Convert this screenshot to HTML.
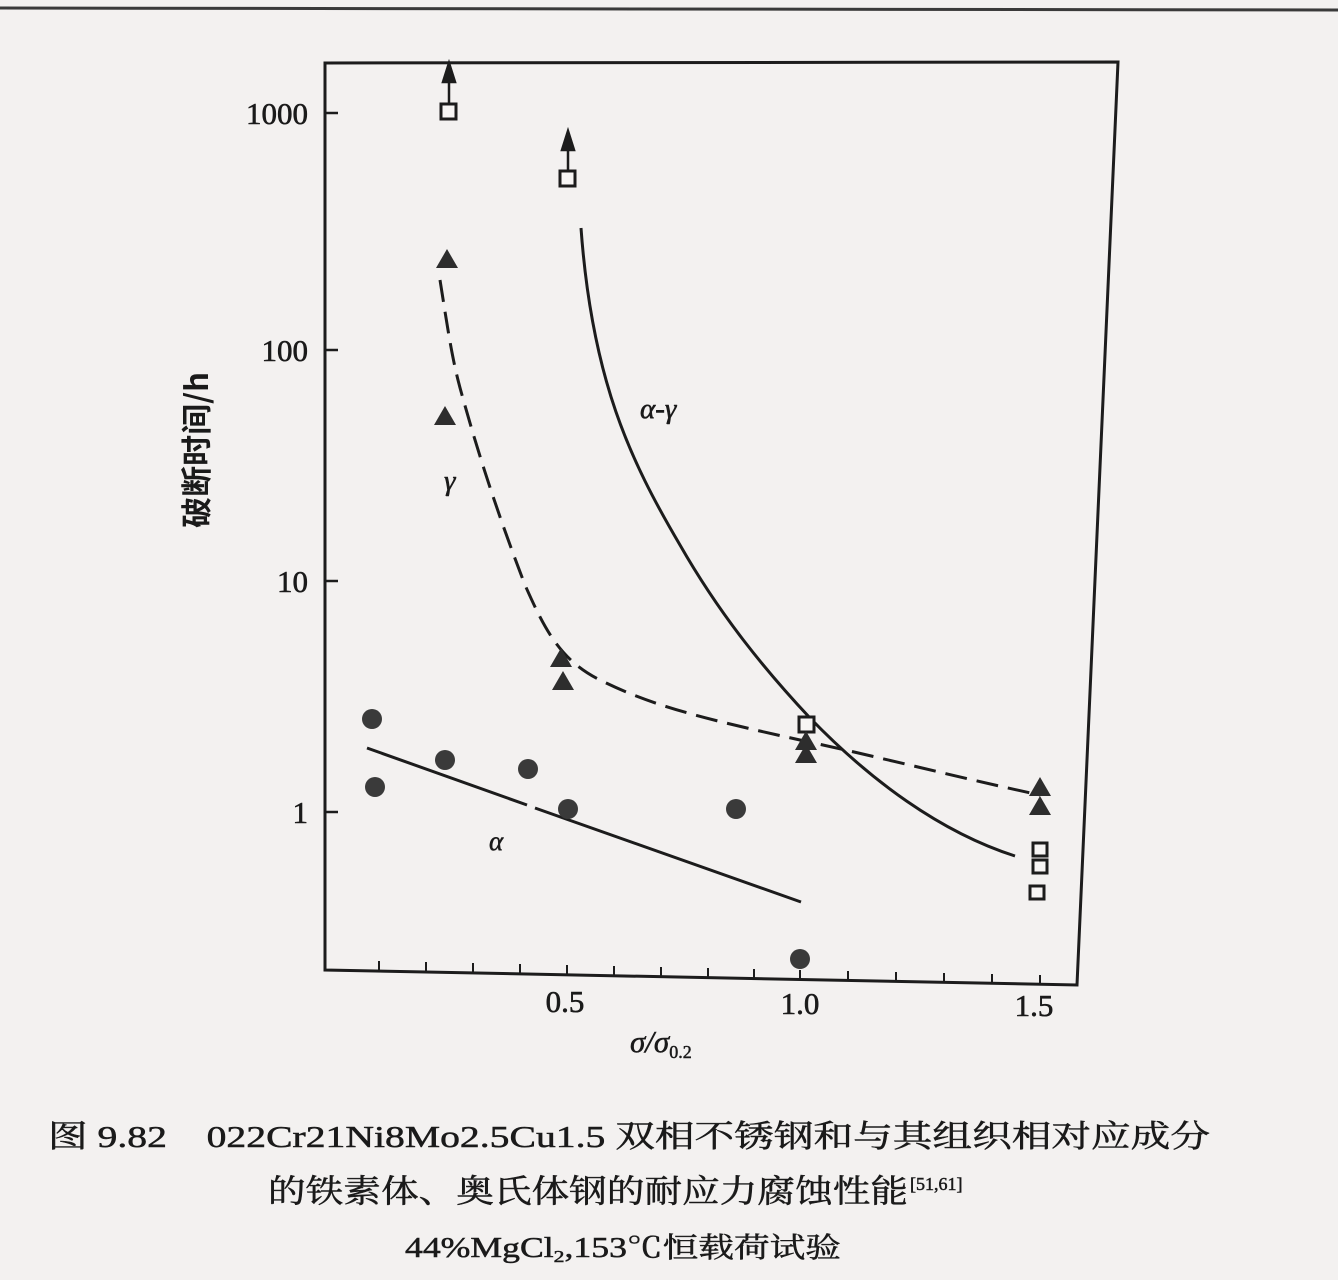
<!DOCTYPE html>
<html><head><meta charset="utf-8"><style>
html,body{margin:0;padding:0;background:#f3f1f0;}
svg{display:block}
.t{font-family:"Liberation Serif","Noto Serif CJK SC",serif;fill:#1a1a1a}
</style></head><body>
<svg width="1338" height="1280" viewBox="0 0 1338 1280" xmlns="http://www.w3.org/2000/svg">
<rect width="1338" height="1280" fill="#f3f1f0"/>
<line x1="0" y1="8" x2="1338" y2="10" stroke="#3a3a3a" stroke-width="3"/>
<polygon points="325,63 1118,62 1077,985 325,970" fill="none" stroke="#1c1c1c" stroke-width="3"/>
<g stroke="#1c1c1c" stroke-width="2.5">
<line x1="325" y1="113" x2="338" y2="113"/>
<line x1="325" y1="350" x2="338" y2="350"/>
<line x1="325" y1="581" x2="338" y2="581"/>
<line x1="325" y1="812" x2="338" y2="812"/>
</g>
<g stroke="#1c1c1c" stroke-width="2">
<line x1="379" y1="971" x2="379" y2="961"/>
<line x1="426" y1="972" x2="426" y2="962"/>
<line x1="473" y1="973" x2="473" y2="963"/>
<line x1="520" y1="974" x2="520" y2="964"/>
<line x1="567" y1="975" x2="567" y2="965"/>
<line x1="614" y1="976" x2="614" y2="966"/>
<line x1="661" y1="977" x2="661" y2="967"/>
<line x1="708" y1="978" x2="708" y2="968"/>
<line x1="754" y1="979" x2="754" y2="969"/>
<line x1="800" y1="980" x2="800" y2="970"/>
<line x1="848" y1="981" x2="848" y2="971"/>
<line x1="896" y1="982" x2="896" y2="972"/>
<line x1="944" y1="983" x2="944" y2="973"/>
<line x1="992" y1="984" x2="992" y2="974"/>
<line x1="1040" y1="985" x2="1040" y2="975"/>
</g>
<g class="t" font-size="31" text-anchor="end" stroke="#1a1a1a" stroke-width="0.6">
<text x="308" y="124">1000</text>
<text x="308" y="361">100</text>
<text x="308" y="592">10</text>
<text x="308" y="823">1</text>
</g>
<g class="t" font-size="31" text-anchor="middle" stroke="#1a1a1a" stroke-width="0.6">
<text x="565" y="1012">0.5</text>
<text x="800" y="1014">1.0</text>
<text x="1034" y="1016">1.5</text>
</g>
<text class="t" x="630" y="1052" font-size="31" font-style="italic" stroke="#1a1a1a" stroke-width="0.5">σ/σ<tspan font-size="18" font-style="normal" dy="6">0.2</tspan></text>
<text class="t" font-size="31" font-weight="bold" transform="translate(208,450) rotate(-90)" text-anchor="middle" style="font-family:'Noto Sans CJK SC',sans-serif">破断时间/h</text>
<path d="M367,748 L527,805 M535,808 L801,902" stroke="#1c1c1c" stroke-width="3" fill="none"/>
<path d="M440,280 C448,330 452,360 462,395 C480,460 500,520 525,585 C545,630 560,660 600,680 C650,705 700,718 800,740 C880,757 960,778 1040,795" stroke="#1c1c1c" stroke-width="3" fill="none" stroke-dasharray="22,10"/>
<path d="M581,228 C592,380 630,460 680,545 C720,615 765,670 810,718 C870,780 940,832 1015,856" stroke="#1c1c1c" stroke-width="3" fill="none"/>
<text class="t" x="640" y="418" font-size="29" font-style="italic" stroke="#1a1a1a" stroke-width="0.6">α-γ</text>
<text class="t" x="444" y="490" font-size="29" font-style="italic" stroke="#1a1a1a" stroke-width="0.6">γ</text>
<text class="t" x="489" y="850" font-size="27" font-style="italic" stroke="#1a1a1a" stroke-width="0.5">α</text>
<g stroke="#1c1c1c" stroke-width="2.5" fill="#1c1c1c">
<line x1="449" y1="103" x2="449" y2="80"/>
<polygon points="443,82 449,63 455,82"/>
<line x1="568" y1="170" x2="568" y2="148"/>
<polygon points="562,150 568,131 574,150"/>
</g>
<g fill="#f7f5f4" stroke="#1c1c1c" stroke-width="3">
<rect x="441" y="104" width="15" height="15"/>
<rect x="560" y="171" width="15" height="15"/>
<rect x="799" y="717" width="15" height="15"/>
<rect x="1033" y="843" width="14" height="13"/>
<rect x="1033" y="860" width="14" height="13"/>
<rect x="1030" y="886" width="14" height="13"/>
</g>
<g fill="#2d2d2d">
<polygon points="436,268 447,249 458,268"/>
<polygon points="434,425 445,406 456,425"/>
<polygon points="550,667 561,648 572,667"/>
<polygon points="552,690 563,671 574,690"/>
<polygon points="795,750 806,731 817,750"/>
<polygon points="795,763 806,744 817,763"/>
<polygon points="1029,796 1040,777 1051,796"/>
<polygon points="1029,815 1040,796 1051,815"/>
</g>
<g fill="#3a3a3a">
<circle cx="372" cy="719" r="10"/>
<circle cx="375" cy="787" r="10"/>
<circle cx="445" cy="760" r="10"/>
<circle cx="528" cy="769" r="10"/>
<circle cx="568" cy="809" r="10"/>
<circle cx="736" cy="809" r="10"/>
<circle cx="800" cy="959" r="10"/>
</g>
<g stroke="#1a1a1a" stroke-width="0.5">
<text class="t" x="48" y="1147" font-size="31" textLength="1162" lengthAdjust="spacingAndGlyphs">图 9.82　022Cr21Ni8Mo2.5Cu1.5 双相不锈钢和与其组织相对应成分</text>
<text class="t" x="268" y="1202" font-size="32" textLength="640" lengthAdjust="spacingAndGlyphs">的铁素体、奥氏体钢的耐应力腐蚀性能</text>
<text class="t" x="910" y="1190" font-size="18">[51,61]</text>
<text class="t" x="405" y="1257" font-size="28" textLength="436" lengthAdjust="spacingAndGlyphs">44%MgCl<tspan font-size="17" dy="5">2</tspan><tspan dy="-5">,153℃恒载荷试验</tspan></text>
</g>
</svg>
</body></html>
